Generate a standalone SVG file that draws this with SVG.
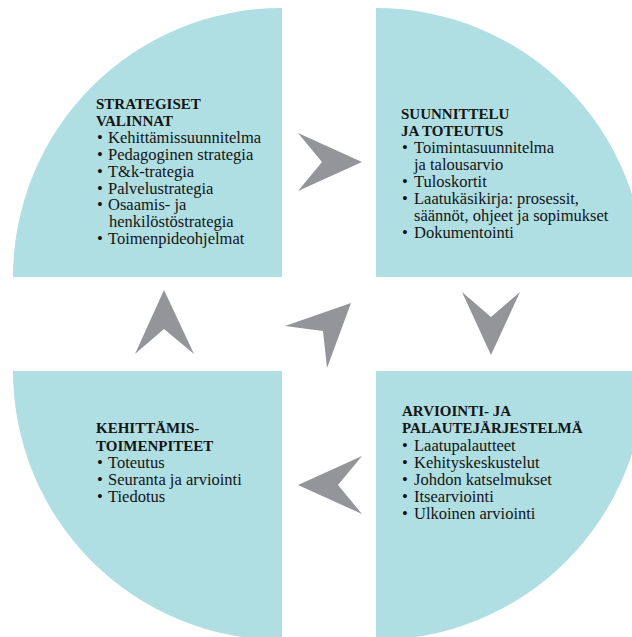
<svg xmlns="http://www.w3.org/2000/svg" width="632" height="637" viewBox="0 0 632 637">
<style>
.q{fill:#afdee3}
.arr{fill:#939598}
text{font-family:"Liberation Serif","Times New Roman",serif;fill:#141414}
.h{font-size:15px;font-weight:bold}
.i{font-size:16.5px}
</style>
<rect x="0" y="0" width="632" height="637" fill="#ffffff"/>
<g id="strategiset-valinnat">
<path class="q" d="M282 277 L13 277 A269 269 0 0 1 282 8 Z"/>
<text class="h" x="96" y="108.5">STRATEGISET</text>
<text class="h" x="96" y="125.5">VALINNAT</text>
<text class="i" x="97" y="143"><tspan>•</tspan><tspan x="108">Kehittämissuunnitelma</tspan></text>
<text class="i" x="97" y="160"><tspan>•</tspan><tspan x="108">Pedagoginen strategia</tspan></text>
<text class="i" x="97" y="177"><tspan>•</tspan><tspan x="108">T&amp;k-trategia</tspan></text>
<text class="i" x="97" y="193.5"><tspan>•</tspan><tspan x="108">Palvelustrategia</tspan></text>
<text class="i" x="97" y="210"><tspan>•</tspan><tspan x="108">Osaamis- ja</tspan></text>
<text class="i" x="109" y="227">henkilöstöstrategia</text>
<text class="i" x="97" y="244"><tspan>•</tspan><tspan x="108">Toimenpideohjelmat</tspan></text>
</g>
<g id="suunnittelu-ja-toteutus">
<path class="q" d="M376 277 L376 8 A269 269 0 0 1 645 277 Z"/>
<text class="h" x="401" y="118.5">SUUNNITTELU</text>
<text class="h" x="401" y="135.5">JA TOTEUTUS</text>
<text class="i" x="402" y="153"><tspan>•</tspan><tspan x="414">Toimintasuunnitelma</tspan></text>
<text class="i" x="414" y="170">ja talousarvio</text>
<text class="i" x="402" y="187"><tspan>•</tspan><tspan x="414">Tuloskortit</tspan></text>
<text class="i" x="402" y="204"><tspan>•</tspan><tspan x="414">Laatukäsikirja: prosessit,</tspan></text>
<text class="i" x="414" y="221">säännöt, ohjeet ja sopimukset</text>
<text class="i" x="402" y="238"><tspan>•</tspan><tspan x="414">Dokumentointi</tspan></text>
</g>
<g id="arviointi-ja-palautejarjestelma">
<path class="q" d="M376 371 L645 371 A269 269 0 0 1 376 640 Z"/>
<text class="h" x="402" y="416">ARVIOINTI- JA</text>
<text class="h" x="402" y="433">PALAUTEJÄRJESTELMÄ</text>
<text class="i" x="402" y="451"><tspan>•</tspan><tspan x="414">Laatupalautteet</tspan></text>
<text class="i" x="402" y="468"><tspan>•</tspan><tspan x="414">Kehityskeskustelut</tspan></text>
<text class="i" x="402" y="485"><tspan>•</tspan><tspan x="414">Johdon katselmukset</tspan></text>
<text class="i" x="402" y="502"><tspan>•</tspan><tspan x="414">Itsearviointi</tspan></text>
<text class="i" x="402" y="519"><tspan>•</tspan><tspan x="414">Ulkoinen arviointi</tspan></text>
</g>
<g id="kehittamistoimenpiteet">
<path class="q" d="M282 371 L282 640 A269 269 0 0 1 13 371 Z"/>
<text class="h" x="96" y="433">KEHITTÄMIS-</text>
<text class="h" x="96" y="450.5">TOIMENPITEET</text>
<text class="i" x="97" y="468"><tspan>•</tspan><tspan x="108">Toteutus</tspan></text>
<text class="i" x="97" y="485"><tspan>•</tspan><tspan x="108">Seuranta ja arviointi</tspan></text>
<text class="i" x="97" y="502"><tspan>•</tspan><tspan x="108">Tiedotus</tspan></text>
</g>
<g id="connectors">
<polygon class="arr" points="298,133 362,162 298,191 322,162"/>
<polygon class="arr" points="462,292 491,317 520,292 491,355"/>
<polygon class="arr" points="362,456 298,485 362,514 338,485"/>
<polygon class="arr" points="164,290 194,354 164,329 135,354"/>
<polygon class="arr" points="351,303 327,368 323,331 285,326"/>
</g>
</svg>
